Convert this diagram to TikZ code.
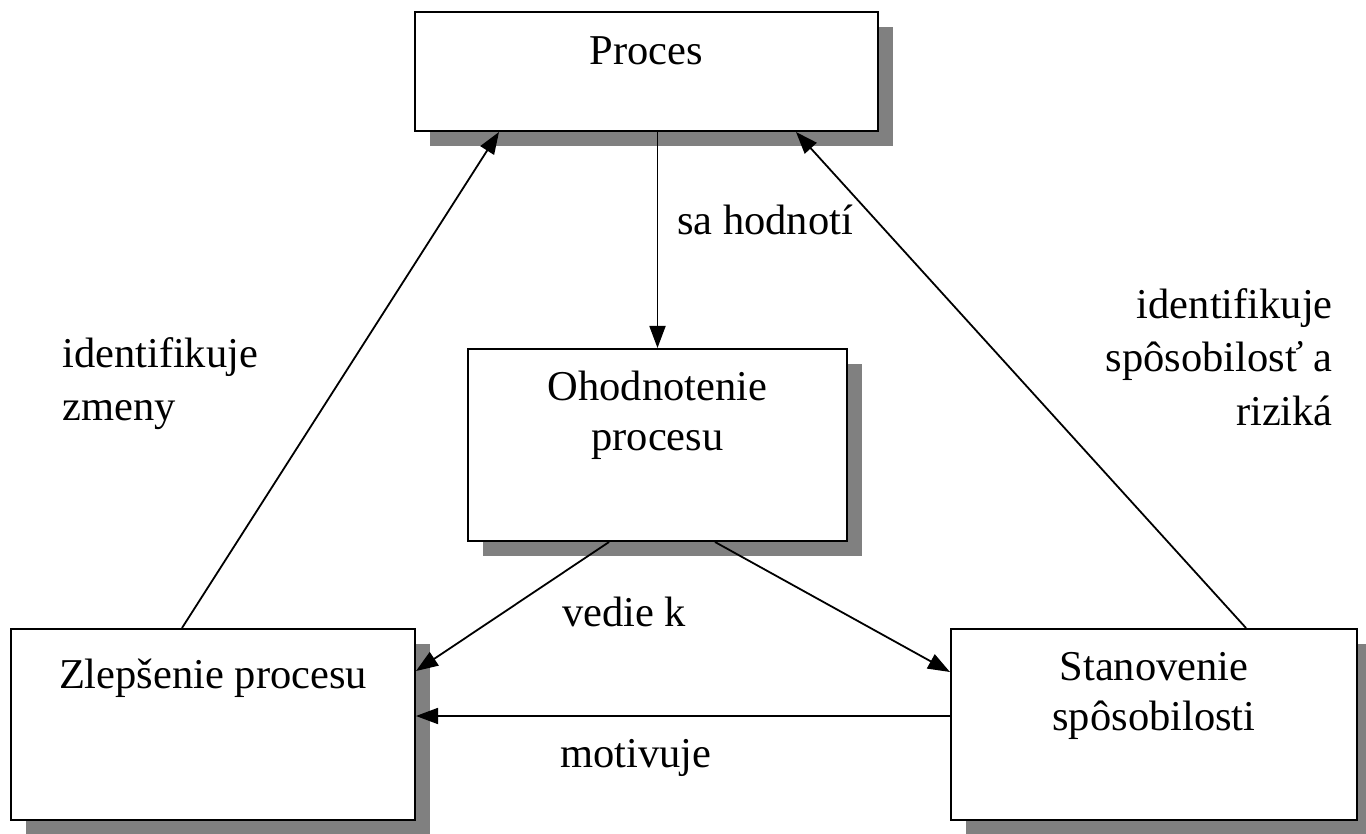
\documentclass[tikz,border=0pt]{standalone}
\usepackage{fontspec}
\setmainfont{Liberation Serif}
\usetikzlibrary{shadows,calc,arrows.meta}
\definecolor{shadowgray}{RGB}{128,128,128}
\begin{document}
\begin{tikzpicture}[x=1pt,y=-1pt,
  box/.style={draw=black,line width=2pt,fill=white,rectangle,inner sep=0pt,
    drop shadow={shadow xshift=15pt,shadow yshift=-15pt,fill=shadowgray,opacity=1}},
  lbl/.style={inner sep=0pt,font=\fontsize{42.5}{52}\selectfont},
  conn/.style={line width=1.8pt,-{Triangle[length=22pt,width=16pt]}}]
\useasboundingbox (0,0) rectangle (1366,834);
% boxes
\node[box,minimum width=463pt,minimum height=119pt] (proc) at (646.5,71.5) {};
\node[box,minimum width=379pt,minimum height=192pt] (ohod) at (657.5,445) {};
\node[box,minimum width=404pt,minimum height=191pt] (zlep) at (213,724.5) {};
\node[box,minimum width=406pt,minimum height=191pt] (stan) at (1154,724.5) {};
% box texts
\node[lbl,anchor=base] (tproc) at (646.5,65) {Proces};
\node[lbl,anchor=base] (tohod1) at (657.5,400) {Ohodnotenie};
\node[lbl,anchor=base] (tohod2) at (657.5,450) {procesu};
\node[lbl,anchor=base] (tzlep) at (213,688) {Zlepšenie procesu};
\node[lbl,anchor=base] (tstan1) at (1154,680) {Stanovenie};
\node[lbl,anchor=base] (tstan2) at (1154,730) {spôsobilosti};
% connectors
\draw[conn] (ohod.north |- proc.south) -- (ohod.north);
\draw[conn] ($(zlep.north west)+(172,0)$) -- ($(proc.south west)+(85,0)$);
\draw[conn] ($(stan.north west)+(296,0)$) -- ($(proc.south west)+(382,0)$);
\draw[conn] ($(ohod.south west)+(142,0)$) -- ($(zlep.north east)+(0,43)$);
\draw[conn] ($(ohod.south west)+(248,0)$) -- ($(stan.north west)+(0,44)$);
\draw[conn] ($(stan.north west)+(0,88)$) -- ($(zlep.north east)+(0,88)$);
% connector labels
\node[lbl,anchor=base west] (lsa) at (677,235) {sa hodnotí};
\node[lbl,anchor=base west] (lid1) at (62,368) {identifikuje};
\node[lbl,anchor=base west] (lid2) at (62,420) {zmeny};
\node[lbl,anchor=base east] (rid1) at (1333,319) {identifikuje};
\node[lbl,anchor=base east] (rid2) at (1333,372) {spôsobilosť a};
\node[lbl,anchor=base east] (rid3) at (1333,425) {riziká};
\node[lbl,anchor=base west] (lved) at (562,626) {vedie k};
\node[lbl,anchor=base west] (lmot) at (560,767) {motivuje};
\end{tikzpicture}
\end{document}
